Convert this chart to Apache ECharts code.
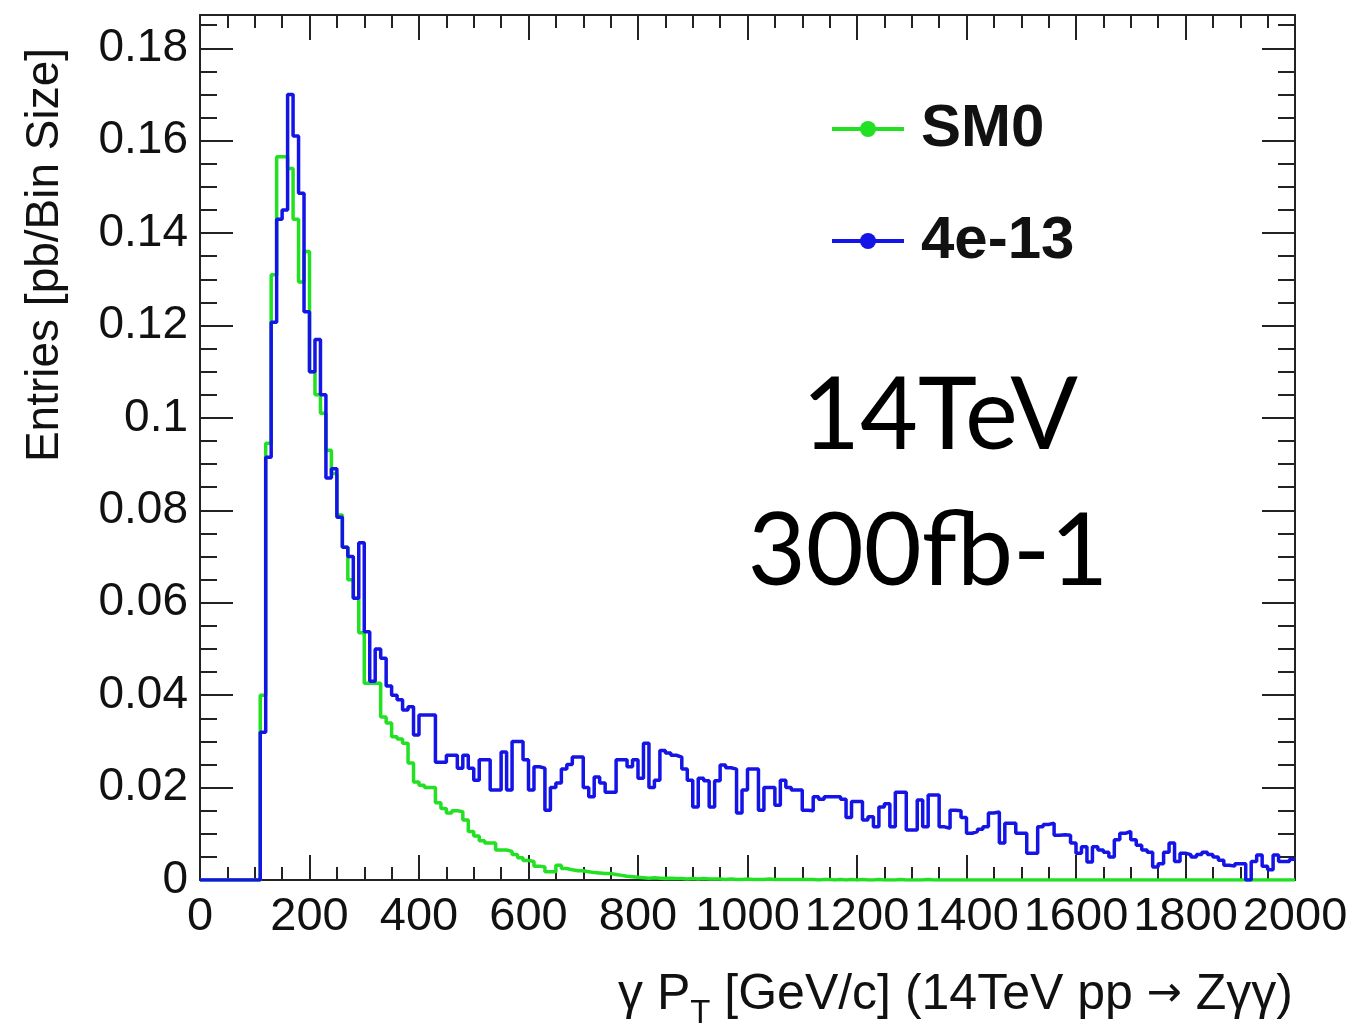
<!DOCTYPE html>
<html>
<head>
<meta charset="utf-8">
<script src="https://cdn.jsdelivr.net/npm/echarts@6/dist/echarts.min.js"></script>
<style>
html,body{margin:0;padding:0;background:#fff;}
#c{width:1351px;height:1033px;}
</style>
</head>
<body>
<div id="c"></div>
<script>
// Histogram binning: 200 bins of 10 GeV from 0 to 2000
const binWidth = 10;
const xTicks = [0, 200, 400, 600, 800, 1000, 1200, 1400, 1600, 1800, 2000];
const yTicks = [0, 0.02, 0.04, 0.06, 0.08, 0.1, 0.12, 0.14, 0.16, 0.18];
const seriesNames = ['SM0', '4e-13'];

// SM0 (green), per 10 GeV bin
const smValues = [
  0,0,0,0,0,0,0,0,0,0,
  0,0.040,0.0945,0.131,0.1565,0.1565,0.154,0.143,0.1294,0.136,
  0.110,0.105,0.101,0.093,0.088,0.079,0.072,0.065,0.061,0.0535,
  0.0426,0.0426,0.0426,0.0353,0.034,0.031,0.0305,0.0296,0.0253,0.0212,
  0.0205,0.020,0.020,0.0167,0.0155,0.0145,0.015,0.0148,0.013,0.0105,
  0.0095,0.0085,0.008,0.008,0.0065,0.0065,0.0062,0.0055,0.0048,0.0042,
  0.004,0.003,0.0028,0.0018,0.0018,0.0032,0.0025,0.0022,0.002,0.002,
  0.0018,0.0016,0.0015,0.0014,0.0014,0.0012,0.001,0.0008,0.0007,0.0006,
  0.0005,0.0004,0.0005,0.0004,0.0003,0.0004,0.0003,0.0003,0.0002,0.0003,
  0.0002,0.0003,0.0002,0.0002,0.0002,0.0001,0.0002,0.0001,0.0001,0.0002,
  0.0001,0.0001,0.0001,0.0002,0.0001,0.0001,0.0001,0.0001,0.0001,0.0001,
  0.0001,0.0001,0,0.0001,0.0001,0,0.0001,0,0.0001,0,
  0.0001,0,0,0.0001,0,0,0,0.0001,0,0,
  0,0,0.0001,0,0,0,0,0,0,0,
  0,0,0,0,0,0,0,0,0,0,
  0,0,0,0,0,0,0,0,0,0,
  0,0,0,0,0,0,0,0,0,0,
  0,0,0,0,0,0,0,0,0,0,
  0,0,0,0,0,0,0,0,0,0,
  0,0,0,0,0,0,0,0,0,0
];

// 4e-13 (blue), per 10 GeV bin
const bsmValues = [
  0,0,0,0,0,0,0,0,0,0,
  0,0.032,0.0915,0.1207,0.143,0.145,0.170,0.161,0.1486,0.123,
  0.110,0.117,0.105,0.087,0.089,0.0785,0.072,0.070,0.061,0.073,
  0.0537,0.043,0.050,0.048,0.042,0.040,0.039,0.0368,0.0375,0.0314,
  0.0357,0.0357,0.0357,0.0255,0.0255,0.027,0.027,0.0242,0.027,0.0242,
  0.0216,0.026,0.026,0.0195,0.0195,0.0277,0.0195,0.030,0.030,0.026,
  0.0195,0.0245,0.0242,0.0151,0.020,0.021,0.024,0.025,0.0266,0.0266,
  0.020,0.018,0.0223,0.021,0.019,0.019,0.026,0.026,0.0245,0.026,
  0.022,0.0296,0.020,0.0216,0.028,0.0275,0.027,0.0266,0.024,0.0216,
  0.0158,0.022,0.0215,0.0158,0.0215,0.0249,0.0243,0.024,0.0145,0.0195,
  0.024,0.024,0.0151,0.020,0.020,0.0162,0.0216,0.020,0.0195,0.0195,
  0.0151,0.015,0.018,0.0175,0.018,0.018,0.018,0.0175,0.0135,0.017,
  0.017,0.013,0.0137,0.0115,0.0158,0.0165,0.0115,0.019,0.019,0.0108,
  0.0108,0.0173,0.0115,0.0184,0.0184,0.0115,0.0112,0.0151,0.015,0.0135,
  0.0101,0.0105,0.011,0.0115,0.0145,0.0147,0.008,0.0123,0.0123,0.0101,
  0.0101,0.0058,0.0058,0.0115,0.012,0.0123,0.0097,0.0098,0.0097,0.008,
  0.0058,0.0072,0.0039,0.0072,0.0065,0.006,0.005,0.0087,0.0101,0.0105,
  0.0087,0.0075,0.0065,0.006,0.0028,0.0035,0.006,0.008,0.004,0.0058,
  0.0055,0.005,0.0055,0.006,0.0055,0.005,0.0043,0.0032,0.003,0.0035,
  0.0035,0,0.004,0.0054,0.003,0.0022,0.0054,0.004,0.004,0.0045
];

function toSteps(vals) {
  const pts = vals.map((v, i) => [i * binWidth, v]);
  pts.push([vals.length * binWidth, vals[vals.length - 1]]);
  return pts;
}

const FONT = 'Liberation Sans';
const AX = '#222';
const yMax = 0.1872;

function yLabel(v) {
  for (const t of yTicks) if (Math.abs(v - t) < 1e-9) return String(t);
  return '';
}

const chart = echarts.init(document.getElementById('c'), null, {renderer: 'canvas'});
const axisCommonX = {
  type: 'value', min: 0, max: 2000, interval: 200,
  axisLine: {show: true, onZero: false, lineStyle: {color: AX, width: 2}},
  axisTick: {show: true, inside: true, length: 25, lineStyle: {color: AX, width: 2}},
  minorTick: {show: true, splitNumber: 4, length: 13, lineStyle: {color: AX, width: 2}},
  splitLine: {show: false}
};
const axisCommonY = {
  type: 'value', min: 0, max: yMax, interval: 0.02,
  axisLine: {show: true, onZero: false, lineStyle: {color: AX, width: 2}},
  axisTick: {show: true, inside: true, length: 33, lineStyle: {color: AX, width: 2}},
  minorTick: {show: true, splitNumber: 4, length: 17, lineStyle: {color: AX, width: 2}},
  splitLine: {show: false}
};

chart.setOption({
  animation: false,
  backgroundColor: '#ffffff',
  grid: {left: 200, right: 56, top: 15, bottom: 153, containLabel: false, outerBoundsMode: 'none'},
  xAxis: [
    Object.assign({}, axisCommonX, {
      position: 'bottom',
      axisLabel: {show: true, fontFamily: FONT, fontSize: 47, color: '#111', margin: 14,
        formatter: v => (xTicks.indexOf(v) >= 0 ? String(v) : '')}
    }),
    Object.assign({}, axisCommonX, {position: 'top', axisLabel: {show: false}})
  ],
  yAxis: [
    Object.assign({}, axisCommonY, {
      position: 'left',
      axisLabel: {show: true, fontFamily: FONT, fontSize: 46, color: '#111', margin: 12, formatter: yLabel}
    }),
    Object.assign({}, axisCommonY, {position: 'right', axisLabel: {show: false}})
  ],
  legend: [
    {
      data: [seriesNames[0]], left: 825, top: 94, orient: 'vertical',
      itemWidth: 72, itemHeight: 20, selectedMode: false,
      lineStyle: {width: 4},
      textStyle: {fontFamily: FONT, fontWeight: 'bold', fontSize: 60, color: '#111', padding: [0, 0, 0, 12]}
    },
    {
      data: [seriesNames[1]], left: 825, top: 206, orient: 'vertical',
      itemWidth: 72, itemHeight: 20, selectedMode: false,
      lineStyle: {width: 4},
      textStyle: {fontFamily: FONT, fontWeight: 'bold', fontSize: 60, color: '#111', padding: [0, 0, 0, 12]}
    }
  ],
  series: [
    {
      name: seriesNames[0], type: 'line', step: 'end', data: toSteps(smValues),
      symbol: 'circle', showSymbol: false, xAxisIndex: 0, yAxisIndex: 0,
      color: '#22e022', lineStyle: {color: '#22e022', width: 3.5}, itemStyle: {color: '#22e022'},
      z: 2
    },
    {
      name: seriesNames[1], type: 'line', step: 'end', data: toSteps(bsmValues),
      symbol: 'circle', showSymbol: false, xAxisIndex: 0, yAxisIndex: 0,
      color: '#1414e6', lineStyle: {color: '#1414e6', width: 3.5}, itemStyle: {color: '#1414e6'},
      z: 3
    }
  ],
  graphic: [
    {
      type: 'text', x: 45, y: 255, rotation: Math.PI / 2,
      style: {text: 'Entries [pb/Bin Size]', font: '46px "Liberation Sans"', fill: '#111',
        textAlign: 'center', textVerticalAlign: 'middle'}
    },
    {
      type: 'text', x: 1293, y: 995,
      style: {
        text: '{a|γ P}{s|T}{a| [GeV/c] (14TeV pp }{r|→}{a| Zγγ)}',
        textAlign: 'right', textVerticalAlign: 'middle',
        rich: {
          a: {fontFamily: FONT, fontSize: 50, fill: '#111', fontWeight: 'normal'},
          r: {fontFamily: 'DejaVu Sans', fontSize: 42, fill: '#111'},
          s: {fontFamily: FONT, fontSize: 33, fill: '#111', padding: [38, 0, 0, 0]}
        }
      }
    },
    {
      type: 'text', x: 940, y: 417,
      style: {text: '14TeV', font: '100px Lato', fill: '#000', textAlign: 'center', textVerticalAlign: 'middle'}
    },
    {
      type: 'text', x: 928, y: 553,
      style: {text: '300fb-1', font: '100px Lato', fill: '#000', textAlign: 'center', textVerticalAlign: 'middle'}
    }
  ]
});
</script>
</body>
</html>
